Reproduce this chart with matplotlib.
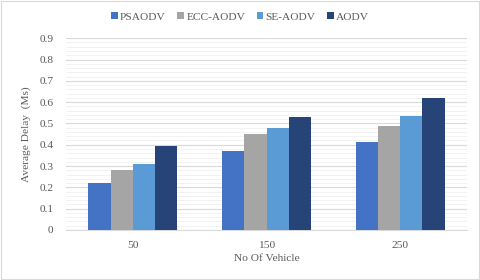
import numpy as np
import matplotlib.pyplot as plt
from matplotlib.patches import Rectangle

categories = ["50", "150", "250"]
series_names = ["PSAODV", "ECC-AODV", "SE-AODV", "AODV"]
psaodv = [0.22, 0.37, 0.415]
ecc_aodv = [0.28, 0.45, 0.49]
se_aodv = [0.31, 0.48, 0.535]
aodv = [0.395, 0.53, 0.62]
colors = ["#4472C4", "#A5A5A5", "#5B9BD5", "#264478"]

plt.rcParams['font.family'] = ['Liberation Serif', 'DejaVu Serif']
txt = "#595959"
fs = 8.2

fig = plt.figure(figsize=(4.8, 2.8), dpi=100)
fig.patches.append(Rectangle((0.002, 0.003), 0.995, 0.993, transform=fig.transFigure,
                             fill=False, edgecolor="#D9D9D9", linewidth=0.8))
ax = fig.add_axes([0.1375, 0.1786, 0.8355, 0.685])

x = np.arange(len(categories))
w = 0.166
for i, vals in enumerate([psaodv, ecc_aodv, se_aodv, aodv]):
    ax.bar(x + (i - 1.5) * w, vals, w, color=colors[i], label=series_names[i], zorder=3)

ax.set_xlim(-0.5, 2.5)
ax.set_ylim(0, 0.9)
ax.set_yticks(np.arange(0, 0.91, 0.1))
ax.set_yticklabels(["0"] + [f"{v:.1f}" for v in np.arange(0.1, 0.91, 0.1)])
ax.set_yticks(np.arange(0, 0.9, 0.02), minor=True)
ax.grid(axis="y", which="major", color="#D9D9D9", linewidth=0.8, zorder=0)
ax.grid(axis="y", which="minor", color="#F0F0F0", linewidth=0.6, zorder=0)
ax.set_xticks(x)
ax.set_xticklabels(categories)
ax.tick_params(axis="both", which="both", length=0, labelsize=fs, colors=txt)
ax.tick_params(axis="y", pad=9)
ax.tick_params(axis="x", pad=8)
for s in ["top", "right", "left"]:
    ax.spines[s].set_visible(False)
ax.spines["bottom"].set_color("#D9D9D9")

ax.set_xlabel("No Of Vehicle", fontsize=fs, color=txt, labelpad=3)
ax.set_ylabel("Average Delay  (Ms)", fontsize=fs, color=txt, labelpad=6)

leg = fig.legend(loc="center", bbox_to_anchor=(0.5, 0.94), ncol=4, frameon=False,
                 fontsize=fs, handlelength=0.6, handleheight=0.6, handletextpad=0.2,
                 columnspacing=1.0)
for t in leg.get_texts():
    t.set_color(txt)

fig.savefig("out.png", dpi=100)
